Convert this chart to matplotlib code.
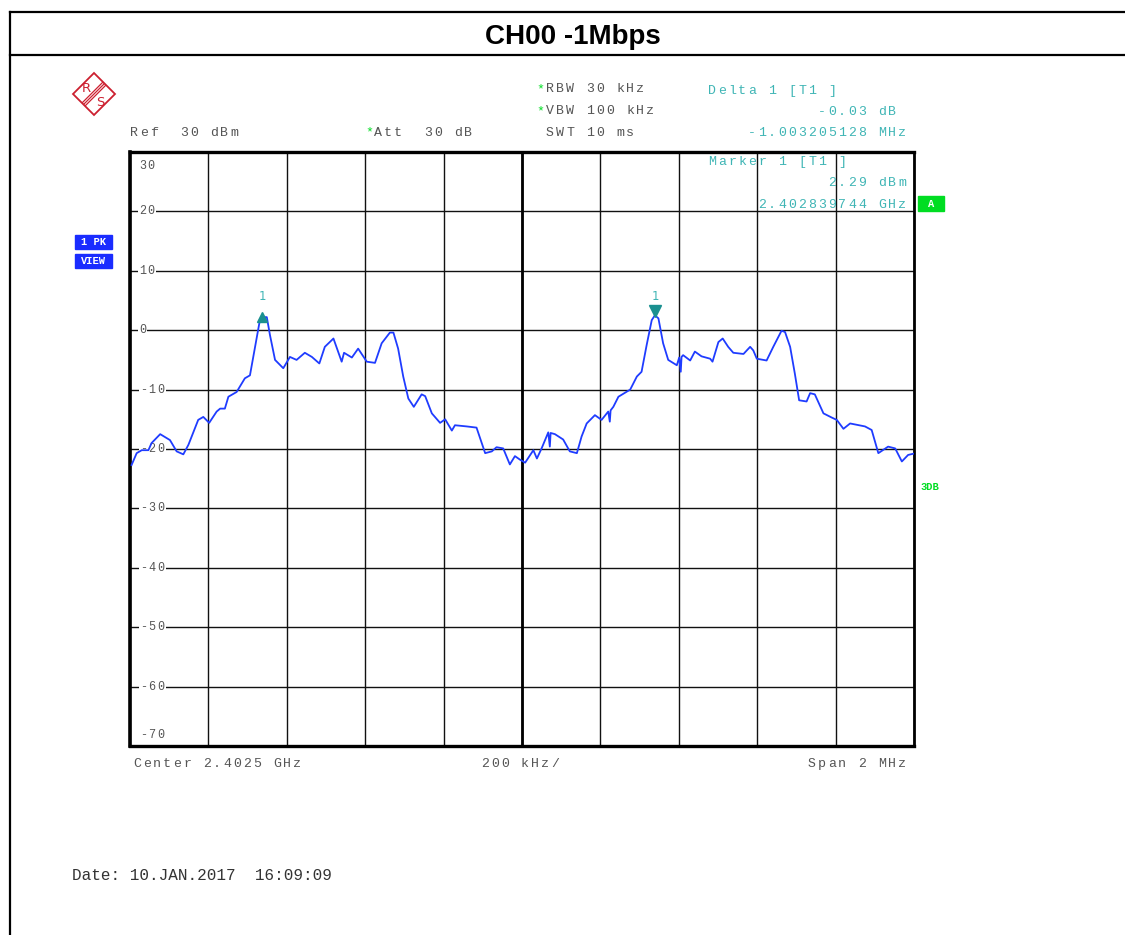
import numpy as np
import matplotlib
matplotlib.use("Agg")
import matplotlib.pyplot as plt
from matplotlib.lines import Line2D
from matplotlib.patches import Polygon, Rectangle

# trace: offset from centre (kHz), level (dBm)
offset_khz = [
    -996, -983, -970, -953, -945, -923, -898, -881, -864, -851,
    -826, -813, -798, -779, -770, -758, -749, -728, -707, -694,
    -681, -670, -660, -651, -643, -630, -609, -592, -575, -554,
    -536, -517, -503, -481, -460, -454, -434, -418, -396, -375,
    -358, -337, -328, -316, -303, -290, -276, -256, -247, -230,
    -209, -196, -179, -171, -141, -116, -94, -77, -65, -48,
    -31, -18,
    -5, 8, 29, 38, 50, 67, 71, 73, 84, 105,
    122, 140, 152, 165, 186, 203, 220, 224, 226, 233,
    246, 276, 293, 305, 318, 331, 339, 348, 360, 373,
    395, 401, 405, 407, 411, 429, 441, 458, 480, 486,
    501, 512, 526, 539, 565, 582, 590, 599, 624, 641,
    662, 671, 684, 696, 707, 726, 735, 747, 769, 790,
    803, 820, 837, 875, 892, 909, 934, 952, 969, 985,
    998,
]
level_dbm = [
    -22.7, -20.7, -20.2, -20.2, -19.0, -17.5, -18.5, -20.4, -20.9, -19.3,
    -15.1, -14.6, -15.6, -13.7, -13.2, -13.2, -11.2, -10.4, -8.1, -7.6,
    -2.8, 1.2, 2.2, 2.2, -0.8, -5.0, -6.4, -4.5, -5.0, -3.8,
    -4.5, -5.6, -2.8, -1.4, -5.3, -3.8, -4.6, -3.1, -5.3, -5.5,
    -2.2, -0.4, -0.4, -3.1, -7.8, -11.5, -12.9, -10.8, -11.1, -14.0,
    -15.6, -15.0, -16.9, -16.0, -16.2, -16.4, -20.7, -20.4, -19.7, -19.9,
    -22.6, -21.2,
    -21.8, -22.3, -20.2, -21.6, -19.9, -17.2, -19.6, -17.3, -17.5, -18.4,
    -20.4, -20.7, -17.9, -15.7, -14.3, -15.1, -13.7, -15.4, -13.5, -12.9,
    -11.2, -10.0, -7.8, -7.0, -2.5, 1.7, 2.5, 2.0, -2.2, -5.0,
    -5.9, -4.6, -7.0, -4.5, -4.2, -5.1, -3.6, -4.4, -4.8, -5.3,
    -2.0, -1.4, -2.8, -3.8, -4.0, -2.8, -3.4, -4.8, -5.1, -2.8,
    -0.1, -0.3, -2.8, -7.3, -11.8, -12.0, -10.6, -10.8, -14.0, -14.7,
    -15.1, -16.6, -15.7, -16.2, -16.8, -20.7, -19.6, -19.9, -22.1, -21.0,
    -20.8,
]

center_ghz = 2.4025
span_mhz = 2
grid_levels = [30, 20, 10, 0, -10, -20, -30, -40, -50, -60, -70]
marker1_ghz = 2.402839744
marker1_dbm = 2.29
delta1_mhz = -1.003205128
delta1_db = -0.03

W, H = 1125, 935
TEAL = "#3fb5b5"
GRAY = "#555555"
GREEN = "#00dd22"


def fx(x):
    return x / W


def fy(y):
    return 1 - y / H


def spaced(x, y, s, color=GRAY, size=9.5, pitch=10, ha="left", weight="normal"):
    # instrument font is letter-spaced, so place each character by hand
    if ha == "right":
        x = x - len(s) * pitch
    for i, ch in enumerate(s):
        if ch == " ":
            continue
        fig.text(fx(x + i * pitch), fy(y), ch, color=color, fontsize=size,
                 family="Liberation Mono", va="center", ha="left", weight=weight)


fig = plt.figure(figsize=(W / 100, H / 100), dpi=100)

# page frame
for xs, ys in [([10, W], [12, 12]), ([10, W], [55, 55]), ([10, 10], [12, H])]:
    fig.add_artist(Line2D([fx(v) for v in xs], [fy(v) for v in ys],
                          color="black", lw=1.6))
fig.text(fx(573), fy(37), "CH00 -1Mbps", fontsize=20, weight="bold",
         family=["Liberation Sans Narrow", "Liberation Sans"], ha="center", va="center")

# R&S logo
red = "#cc2030"
fig.add_artist(Polygon([(fx(94), fy(73)), (fx(115), fy(94)), (fx(94), fy(115)), (fx(73), fy(94))],
                       closed=True, fill=False, edgecolor=red, lw=1.3))
for d in [-1.5, 0, 1.5]:
    fig.add_artist(Line2D([fx(104 + d), fx(84 + d)], [fy(84 + d), fy(104 + d)], color=red, lw=0.9))
fig.text(fx(86), fy(88), "R", color=red, fontsize=9.5, ha="center", va="center", family="DejaVu Sans")
fig.text(fx(100), fy(102), "S", color=red, fontsize=9.5, ha="center", va="center", family="DejaVu Sans")

ax = fig.add_axes([fx(130), fy(746), 784 / W, 594 / H])
half = span_mhz * 1000 / 2
ax.set_xlim(-half, half)
ax.set_ylim(grid_levels[-1], grid_levels[0])
ax.set_xticks(np.linspace(-half, half, 11))
ax.set_yticks(grid_levels)
ax.tick_params(length=0, labelbottom=False, labelleft=False)
ax.grid(True, color="#111111", lw=1)
ax.axvline(0, color="black", lw=2)
for side, lw in [("left", 2.6), ("top", 2.4), ("bottom", 2.4), ("right", 2)]:
    ax.spines[side].set_linewidth(lw)

# pixel -> data scale factors for the label backgrounds
khz_per_px = 2 * half / 784
db_per_px = (grid_levels[0] - grid_levels[-1]) / 594

# level labels sit on the grid lines, letter-spaced like the instrument font
for lv in grid_levels:
    if lv == grid_levels[0]:
        y = lv - 2.4
    elif lv == grid_levels[-1]:
        y = lv + 1.9
    else:
        y = lv
    txt = str(lv)
    start = 10 if lv < 0 else 9
    # white patch behind the label so the grid line breaks around it
    ax.add_patch(Rectangle((-half + (start - 1) * khz_per_px, y - 6 * db_per_px),
                           (len(txt) * 8.5 + 1) * khz_per_px, 12 * db_per_px,
                           facecolor="white", edgecolor="none", zorder=3))
    for i, ch in enumerate(txt):
        ax.annotate(ch, xy=(-half, y), xytext=(start + i * 8.5, 0), textcoords="offset pixels",
                    fontsize=8.5, color=GRAY, family="Liberation Mono", va="center", ha="left",
                    zorder=4)

ax.plot(offset_khz, level_dbm, color="#1f3cff", lw=1.3, zorder=5)

m1_khz = (marker1_ghz - center_ghz) * 1e6
d1_khz = m1_khz + delta1_mhz * 1000
ax.plot([m1_khz], [marker1_dbm + 0.9], marker="v", ms=8, color="#1a9090", zorder=6)
ax.plot([d1_khz], [marker1_dbm + delta1_db], marker="^", ms=7, color="#1a9090", zorder=6)
for xk in [m1_khz, d1_khz]:
    ax.text(xk, 5.7, "1", color=TEAL, fontsize=8.5, ha="center", va="center", zorder=6)

# header texts
spaced(130, 133, "Ref  30 dBm")
spaced(365, 132, "*", color=GREEN)
spaced(374, 133, "Att  30 dB")
spaced(536, 89, "*", color=GREEN)
spaced(546, 89, "RBW 30 kHz")
spaced(536, 111, "*", color=GREEN)
spaced(546, 111, "VBW 100 kHz")
spaced(546, 133, "SWT 10 ms")
spaced(708, 91, "Delta 1 [T1 ]", color=TEAL)
spaced(898, 112, f"{delta1_db:.2f} dB", color=TEAL, ha="right")
spaced(908, 133, f"{delta1_mhz:.9f} MHz", color=TEAL, ha="right")
spaced(708, 162, "Marker 1 [T1 ]", color=TEAL)
spaced(908, 183, f"{marker1_dbm:.2f} dBm", color=TEAL, ha="right")
spaced(908, 205, f"{marker1_ghz:.9f} GHz", color=TEAL, ha="right")

# side labels
fig.add_artist(Rectangle((fx(918), fy(211)), 26 / W, 15 / H, color=GREEN))
fig.text(fx(931), fy(204), "A", color="white", fontsize=7.5, weight="bold",
         family="Liberation Mono", ha="center", va="center")
for txt, y0 in [("1 PK", 235), ("VIEW", 254)]:
    fig.add_artist(Rectangle((fx(75), fy(y0 + 14)), 37 / W, 14 / H, color="#1a2cff"))
    fig.text(fx(93.5), fy(y0 + 7), txt, color="white", fontsize=7.5, weight="bold",
             family="Liberation Mono", ha="center", va="center")
fig.text(fx(920), fy(487), "3DB", color=GREEN, fontsize=7.5, weight="bold",
         family="Liberation Mono", ha="left", va="center")

# footer texts
spaced(133, 764, f"Center {center_ghz} GHz")
spaced(481, 764, "200 kHz/")
spaced(908, 764, f"Span {span_mhz} MHz", ha="right")
fig.text(fx(72), fy(875), "Date: 10.JAN.2017  16:09:09", fontsize=11.5, color="#333333",
         family="Liberation Mono", ha="left", va="center")

fig.savefig("out.png", dpi=100)
